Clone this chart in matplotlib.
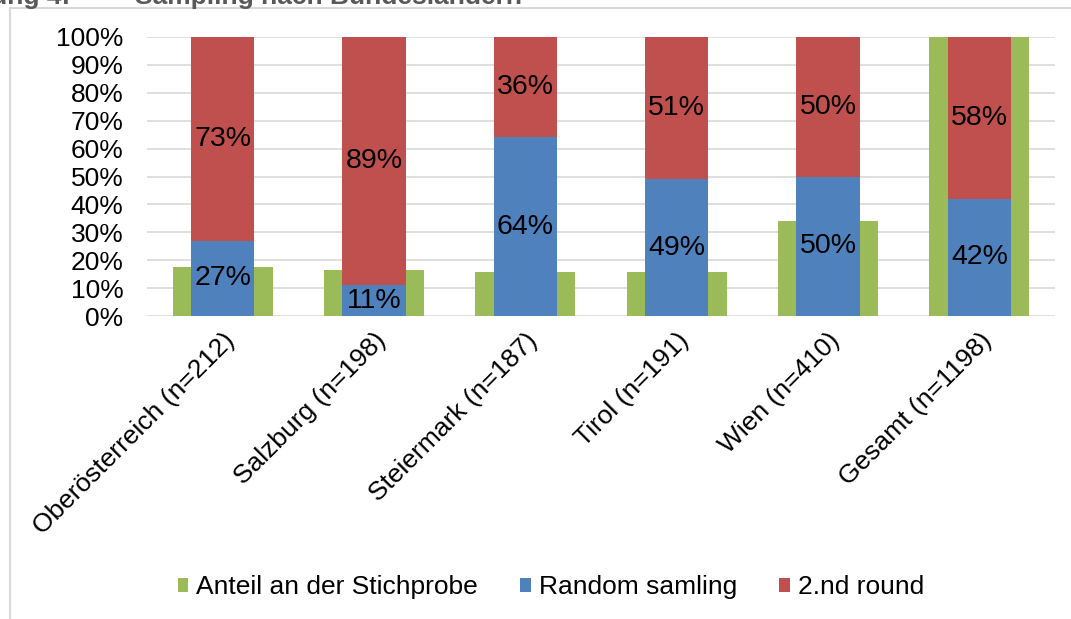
import matplotlib
matplotlib.use("Agg")
import matplotlib.pyplot as plt
from matplotlib.lines import Line2D
from matplotlib.patches import Patch
import numpy as np

plt.rcParams['font.family'] = ['Liberation Sans', 'DejaVu Sans']

categories = ["Oberösterreich (n=212)", "Salzburg (n=198)", "Steiermark (n=187)",
              "Tirol (n=191)", "Wien (n=410)", "Gesamt (n=1198)"]
anteil = [0.177, 0.165, 0.156, 0.159, 0.342, 1.00]
random_samling = [0.27, 0.11, 0.64, 0.49, 0.50, 0.42]
second_round = [0.73, 0.89, 0.36, 0.51, 0.50, 0.58]
yticks = [0, 0.1, 0.2, 0.3, 0.4, 0.5, 0.6, 0.7, 0.8, 0.9, 1.0]
ytick_labels = ["0%", "10%", "20%", "30%", "40%", "50%", "60%", "70%", "80%", "90%", "100%"]
legend_labels = ["Anteil an der Stichprobe", "Random samling", "2.nd round"]

c_green = "#9BBB59"
c_blue = "#4F81BD"
c_red = "#C0504D"

W, H = 1071, 619
fig = plt.figure(figsize=(W / 100, H / 100), dpi=100)
ax = fig.add_axes([147 / W, 1 - 316 / H, (1055 - 147) / W, (316 - 37) / H])

x = np.arange(len(categories))
ax.bar(x, anteil, width=0.66, color=c_green, zorder=2)
ax.bar(x, random_samling, width=0.42, color=c_blue, zorder=3)
ax.bar(x, second_round, width=0.42, bottom=random_samling, color=c_red, zorder=3)

for i in range(len(categories)):
    ax.text(x[i], random_samling[i] / 2, f"{round(random_samling[i] * 100):d}%",
            ha="center", va="center", fontsize=20.5, color="black", zorder=5)
    ax.text(x[i], random_samling[i] + second_round[i] / 2, f"{round(second_round[i] * 100):d}%",
            ha="center", va="center", fontsize=20.5, color="black", zorder=5)

ax.set_xlim(-0.5, len(categories) - 0.5)
ax.set_ylim(0, 1)
ax.set_yticks(yticks)
ax.set_yticklabels(ytick_labels, fontsize=19)
ax.yaxis.grid(True, color="#D9D9D9", linewidth=1.2, zorder=0)
ax.set_axisbelow(True)
for s in ax.spines.values():
    s.set_visible(False)
ax.tick_params(axis="y", length=0, pad=17)
ax.tick_params(axis="x", length=0, pad=9)
ax.set_xticks(x)
ax.set_xticklabels(categories, rotation=45, ha="right", va="top",
                   rotation_mode="anchor", fontsize=19)

# legend
handles = [Patch(facecolor=c, edgecolor="none") for c in (c_green, c_blue, c_red)]
fig.legend(handles, legend_labels, loc="center", bbox_to_anchor=(551 / W, 1 - 587 / H),
           ncol=3, frameon=False, fontsize=19, handlelength=0.4, handleheight=0.45,
           handletextpad=0.3, columnspacing=1.6)

# chart frame (partially visible)
fig.add_artist(Line2D([10 / W, 10 / W], [0, 1 - 8 / H], transform=fig.transFigure,
                      color="#D9D9D9", linewidth=1.5))
fig.add_artist(Line2D([10 / W, 1], [1 - 8 / H, 1 - 8 / H], transform=fig.transFigure,
                      color="#D9D9D9", linewidth=1.5))

# caption above the chart, clipped by the top edge as in the source
fig.text(70 / W, 1 - 4 / H, "Abbildung 4:", ha="right", va="baseline",
         fontsize=19, fontweight="bold", color="#595959")
fig.text(135 / W, 1 - 4 / H, "Sampling nach Bundesländern", ha="left", va="baseline",
         fontsize=19, fontweight="bold", color="#595959")

fig.savefig("out.png", dpi=100)
